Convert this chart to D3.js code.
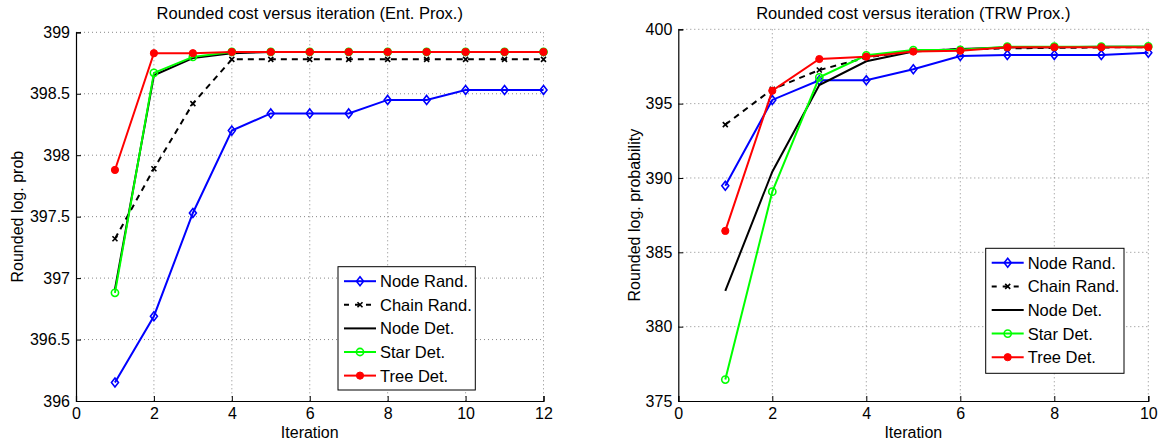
<!DOCTYPE html>
<html>
<head>
<meta charset="utf-8">
<script src="https://cdn.jsdelivr.net/npm/d3@7"></script>
<style>
  body { margin: 0; background: #fff; }
  svg { font-family: "Liberation Sans", Arial, sans-serif; }
  .grid line { stroke: #888; stroke-dasharray: 1,3; stroke-width: 1; }
</style>
</head>
<body>
<script>
// left panel: Ent. Prox.
const itersA = [1,2,3,4,5,6,7,8,9,10,11,12];
const nodeRandA  = [396.15,396.69,397.53,398.20,398.34,398.34,398.34,398.45,398.45,398.53,398.53,398.53];
const chainRandA = [397.32,397.89,398.42,398.78,398.78,398.78,398.78,398.78,398.78,398.78,398.78,398.78];
const nodeDetA   = [396.91,398.65,398.79,398.83,398.84,398.84,398.84,398.84,398.84,398.84,398.84,398.84];
const starDetA   = [396.88,398.67,398.80,398.84,398.84,398.84,398.84,398.84,398.84,398.84,398.84,398.84];
const treeDetA   = [397.88,398.83,398.83,398.84,398.84,398.84,398.84,398.84,398.84,398.84,398.84,398.84];
const xTicksA = [0,2,4,6,8,10,12];
const yTicksA = [396,396.5,397,397.5,398,398.5,399];

// right panel: TRW Prox.
const itersB = [1,2,3,4,5,6,7,8,9,10];
const nodeRandB  = [389.48,395.25,396.57,396.57,397.31,398.20,398.27,398.27,398.27,398.43];
const chainRandB = [393.59,395.97,397.26,398.10,398.55,398.65,398.72,398.75,398.78,398.80];
const nodeDetB   = [382.40,390.42,396.25,397.85,398.50,398.68,398.78,398.80,398.82,398.83];
const starDetB   = [376.44,389.08,396.77,398.25,398.60,398.62,398.83,398.83,398.83,398.85];
const treeDetB   = [386.44,395.87,398.00,398.16,398.50,398.56,398.79,398.79,398.79,398.80];
const xTicksB = [0,2,4,6,8,10];
const yTicksB = [375,380,385,390,395,400];

const seriesNames = ["Node Rand.","Chain Rand.","Node Det.","Star Det.","Tree Det."];

const styles = [
  {color:"#0000ff", dash:null,  marker:"diamond"},
  {color:"#000000", dash:"6,5", marker:"x"},
  {color:"#000000", dash:null,  marker:"none"},
  {color:"#00ff00", dash:null,  marker:"circle"},
  {color:"#ff0000", dash:null,  marker:"dot"}
];

const svg = d3.select("body").append("svg")
  .attr("width", 1163)
  .attr("height", 445);

function drawMarker(g, type, color, x, y) {
  if (type == "diamond") {
    g.append("path")
      .attr("d", `M${x},${y-4.5}L${x+3.5},${y}L${x},${y+4.5}L${x-3.5},${y}Z`)
      .attr("fill","none").attr("stroke",color).attr("stroke-width",1.6);
  } else if (type == "x") {
    g.append("path")
      .attr("d", `M${x-2.5},${y-2.5}L${x+2.5},${y+2.5}M${x-2.5},${y+2.5}L${x+2.5},${y-2.5}`)
      .attr("stroke",color).attr("stroke-width",1.6);
  } else if (type == "circle") {
    g.append("circle").attr("cx",x).attr("cy",y).attr("r",3.6)
      .attr("fill","none").attr("stroke",color).attr("stroke-width",1.6);
  } else if (type == "dot") {
    g.append("circle").attr("cx",x).attr("cy",y).attr("r",3.6)
      .attr("fill",color).attr("stroke",color).attr("stroke-width",1);
  }
}

function panel(opt) {
  const x = d3.scaleLinear().domain(opt.xDomain).range([opt.left, opt.right]);
  const y = d3.scaleLinear().domain(opt.yDomain).range([opt.bottom, opt.top]);
  const g = svg.append("g");

  // grid
  const grid = g.append("g").attr("class","grid");
  grid.selectAll(".gx").data(opt.xTicks.slice(1)).enter().append("line")
    .attr("x1", d => x(d)).attr("x2", d => x(d))
    .attr("y1", opt.top).attr("y2", opt.bottom);
  grid.selectAll(".gy").data(opt.yTicks.slice(1)).enter().append("line")
    .attr("x1", opt.left).attr("x2", opt.right)
    .attr("y1", d => y(d)).attr("y2", d => y(d));

  // axes
  const xAxis = g.append("g").attr("transform", `translate(0,${opt.bottom})`)
    .call(d3.axisBottom(x).tickValues(opt.xTicks).tickSize(-5).tickPadding(7).tickFormat(d3.format("d")));
  const yAxis = g.append("g").attr("transform", `translate(${opt.left},0)`)
    .call(d3.axisLeft(y).tickValues(opt.yTicks).tickSize(-5).tickPadding(6).tickFormat(d => d3.format("")(d)));
  [xAxis, yAxis].forEach(a => {
    a.select(".domain").attr("stroke","#000").attr("stroke-width",1.2);
    a.selectAll(".tick line").attr("stroke","#000");
    a.selectAll("text").attr("font-size",16).attr("fill","#000")
      .attr("font-family","Liberation Sans, Arial, sans-serif");
  });

  // lines
  const line = d3.line().x(d => x(d[0])).y(d => y(d[1]));
  opt.data.forEach((vals, i) => {
    const st = styles[i];
    const pts = opt.iters.map((it, k) => [it, vals[k]]);
    g.append("path").datum(pts)
      .attr("d", line)
      .attr("fill","none")
      .attr("stroke", st.color)
      .attr("stroke-width", 2)
      .attr("stroke-dasharray", st.dash);
    pts.forEach(p => drawMarker(g, st.marker, st.color, x(p[0]), y(p[1])));
  });

  // title, labels
  g.append("text").attr("x", (opt.left+opt.right)/2).attr("y", 19)
    .attr("text-anchor","middle").attr("font-size",16.5).text(opt.title);
  g.append("text").attr("x", (opt.left+opt.right)/2).attr("y", 438)
    .attr("text-anchor","middle").attr("font-size",16).text("Iteration");
  g.append("text")
    .attr("transform", `translate(${opt.ylabelX},${(opt.top+opt.bottom)/2}) rotate(-90)`)
    .attr("text-anchor","middle").attr("font-size",16).text(opt.ylabel);

  // legend
  const L = opt.legend;
  const lg = g.append("g");
  lg.append("rect").attr("x",L.x).attr("y",L.y).attr("width",L.w).attr("height",L.h)
    .attr("fill","#fff").attr("stroke","#000").attr("stroke-width",1);
  seriesNames.forEach((name, i) => {
    const st = styles[i];
    const ry = L.y + 14.5 + i*23.6;
    lg.append("line").attr("x1",L.x+6).attr("x2",L.x+38).attr("y1",ry).attr("y2",ry)
      .attr("stroke",st.color).attr("stroke-width",2).attr("stroke-dasharray", st.dash ? "5,6" : null);
    drawMarker(lg, st.marker, st.color, L.x+22, ry);
    lg.append("text").attr("x",L.x+42).attr("y",ry+6).attr("font-size",16.5).text(name);
  });
}

panel({
  left: 76, right: 543.5, top: 32.3, bottom: 401,
  xDomain: [0,12], yDomain: [396,399],
  xTicks: xTicksA, yTicks: yTicksA,
  iters: itersA,
  data: [nodeRandA, chainRandA, nodeDetA, starDetA, treeDetA],
  title: "Rounded cost versus iteration (Ent. Prox.)",
  ylabel: "Rounded log. prob", ylabelX: 23,
  legend: {x: 338, y: 266.7, w: 137.3, h: 123.3}
});

panel({
  left: 678.3, right: 1148.3, top: 29.3, bottom: 401,
  xDomain: [0,10], yDomain: [375,400],
  xTicks: xTicksB, yTicks: yTicksB,
  iters: itersB,
  data: [nodeRandB, chainRandB, nodeDetB, starDetB, treeDetB],
  title: "Rounded cost versus iteration (TRW Prox.)",
  ylabel: "Rounded log. probability", ylabelX: 640,
  legend: {x: 985.7, y: 248.3, w: 138.3, h: 125}
});
</script>
</body>
</html>
